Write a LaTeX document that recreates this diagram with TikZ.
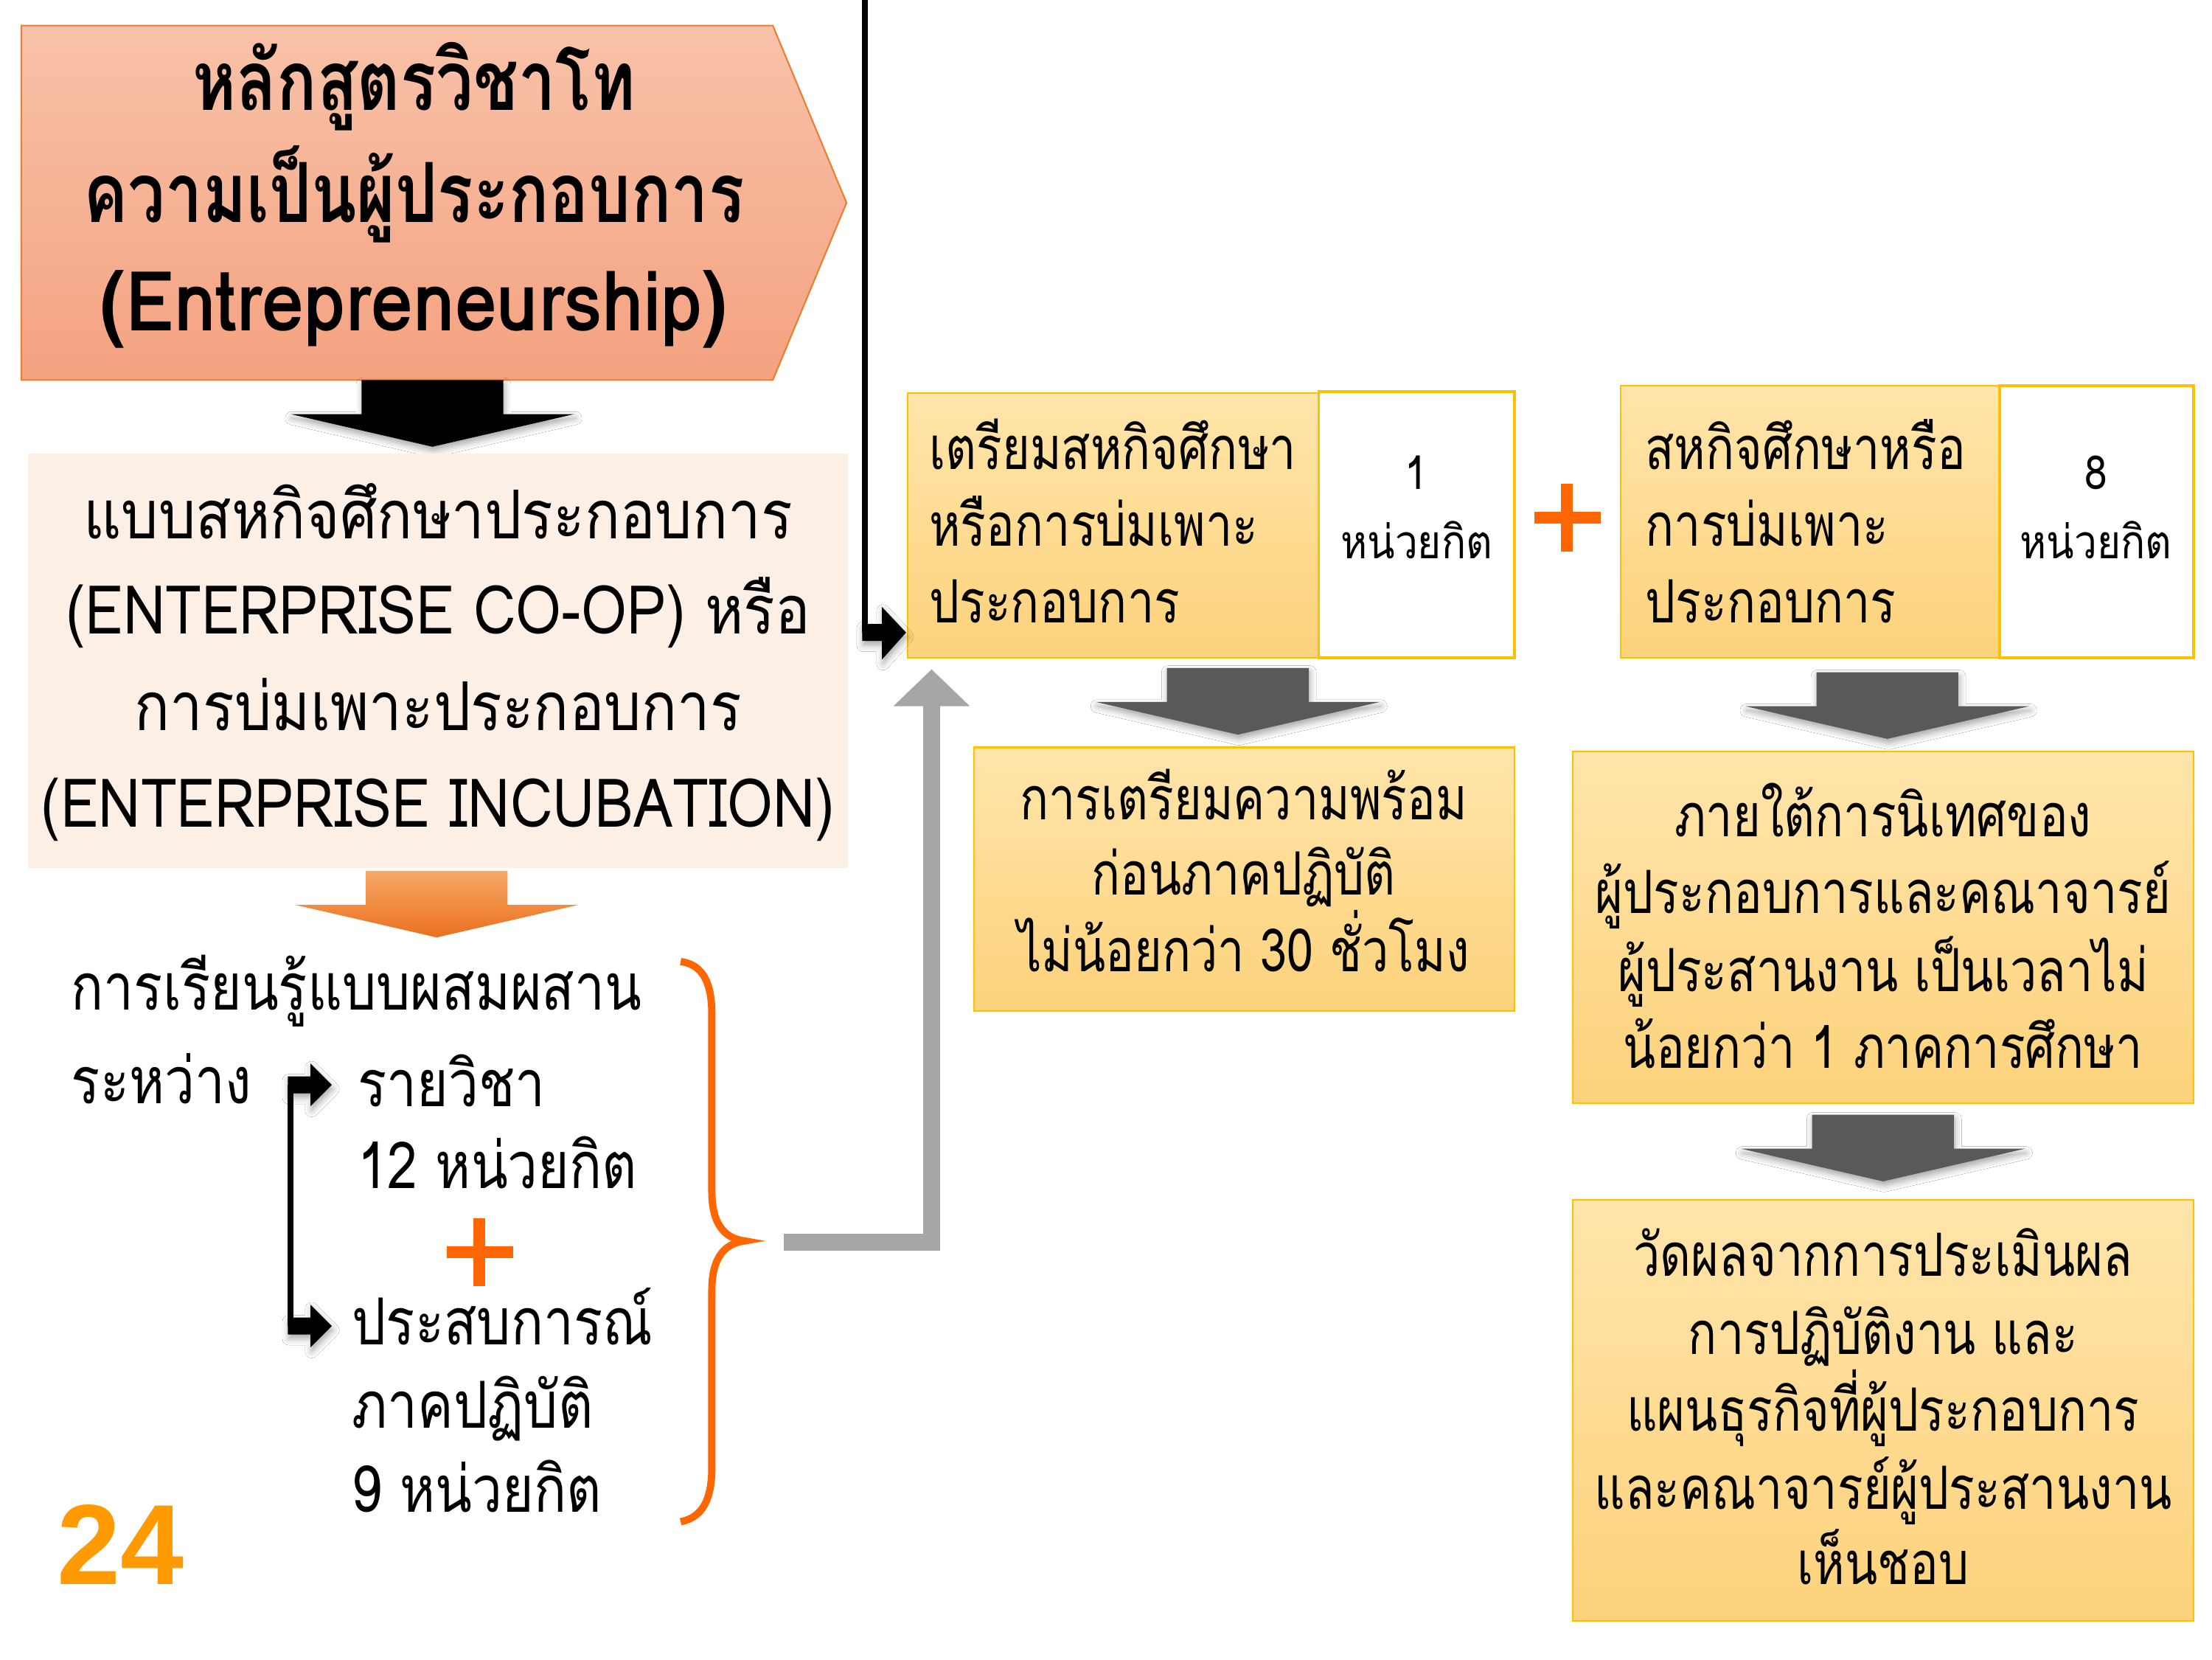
\documentclass[tikz,border=0pt]{standalone}
\usepackage{fontspec}
\setmainfont{Loma}[Script=Thai]
\newfontfamily\thT[Script=Thai,FakeStretch=0.80]{Loma}
\newfontfamily\thTL[Script=Thai,FakeStretch=0.91]{Loma}
\newfontfamily\thM[Script=Thai,FakeStretch=0.87]{Loma}
\newfontfamily\thL[Script=Thai,FakeStretch=0.83]{Loma}
\newfontfamily\thB[Script=Thai,FakeStretch=0.80]{Loma}
\newfontfamily\thS[Script=Thai,FakeStretch=0.87]{Loma}
\newfontfamily\numf{Liberation Sans}
\usetikzlibrary{fit,shadows.blur}
\definecolor{tborder}{HTML}{ED7D31}
\definecolor{ttop}{HTML}{F8C2A9}
\definecolor{tbot}{HTML}{F4A280}
\definecolor{peach}{HTML}{FBEFE6}
\definecolor{otop}{HTML}{F7A865}
\definecolor{obot}{HTML}{EA7020}
\definecolor{ytop}{HTML}{FFE5AB}
\definecolor{ybot}{HTML}{FDD27B}
\definecolor{yborder}{HTML}{FFC000}
\definecolor{darkg}{HTML}{595959}
\definecolor{lightg}{HTML}{A6A6A6}
\definecolor{plusor}{HTML}{FF6600}
\definecolor{numor}{HTML}{FF9A00}
\tikzset{
  ybox/.style={draw=yborder, line width=0.6pt, top color=ytop, bottom color=ybot, inner sep=0pt},
  wbox/.style={draw=yborder, line width=1.1pt, fill=white, inner sep=0pt},
  ttl/.style={font=\thT\bfseries\fontsize{32}{38}\selectfont, anchor=base, inner sep=0pt},
  mid/.style={font=\thM\fontsize{26}{30}\selectfont, anchor=base, inner sep=0pt},
  lft/.style={font=\thL\fontsize{25}{30}\selectfont, anchor=base west, inner sep=0pt},
  btx/.style={font=\thB\fontsize{23}{28}\selectfont, anchor=base west, inner sep=0pt},
  bct/.style={font=\thB\fontsize{23}{28}\selectfont, anchor=base, inner sep=0pt},
  sml/.style={font=\thS\fontsize{18}{22}\selectfont, anchor=base, inner sep=0pt},
  plusline/.style={draw=plusor, line width=4.4pt},
  brace/.style={draw=plusor, line width=2.8pt},
  softshadow/.style={blur shadow={shadow xshift=0.4pt, shadow yshift=-1.6pt, shadow blur radius=2.5pt, shadow opacity=35}},
}
\newcommand\dnarrow[3]{%
  \path[#3] (#1-50,#2) -- (#1+50,#2) -- (#1+50,#2+24) -- (#1+100,#2+24) -- (#1,#2+47) -- (#1-100,#2+24) -- (#1-50,#2+24) -- cycle;}
\begin{document}
\begin{tikzpicture}[x=0.019231cm,y=-0.019231cm]
\useasboundingbox (0,0) rectangle (1560,1170);
\fill[white] (0,0) rectangle (1560,1170);

% ---- title pentagon
\path[draw=tborder, line width=0.6pt, top color=ttop, bottom color=tbot]
  (15,18) -- (545,18) -- (597,143) -- (545,268) -- (15,268) -- cycle;
\node[ttl] (t1) at (292,78) {หลักสูตรวิชาโท};
\node[ttl] (t2) at (292,157) {ความเป็นผู้ประกอบการ};
\node[ttl, font=\thTL\bfseries\fontsize{32}{38}\selectfont] (t3) at (292,233) {(Entrepreneurship)};

% ---- black down arrow
\dnarrow{305}{268}{fill=black, softshadow}

% ---- light box
\node[fill=peach, inner sep=0pt, fit={(20,320)(598,612)}] (lb) {};
\node[mid] (l1) at (309,380) {แบบสหกิจศึกษาประกอบการ};
\node[mid] (l2) at (309,447) {(ENTERPRISE CO-OP) หรือ};
\node[mid] (l3) at (309,515) {การบ่มเพาะประกอบการ};
\node[mid] (l4) at (309,583) {(ENTERPRISE INCUBATION)};

% ---- orange down arrow
\dnarrow{308}{614}{top color=otop, bottom color=obot}

% ---- lower left text
\node[lft] (m1) at (50,712) {การเรียนรู้แบบผสมผสาน};
\node[lft] (m2) at (50,778) {ระหว่าง};
\node[lft] (m3) at (252,780) {รายวิชา};
\node[lft] (m4) at (252,838) {12 หน่วยกิต};
\node[lft] (m5) at (248,948) {ประสบการณ์};
\node[lft] (m6) at (248,1007) {ภาคปฏิบัติ};
\node[lft] (m7) at (248,1066) {9 หน่วยกิต};
% bracket with arrows
\coordinate (bt) at (205,765);
\coordinate (bb) at (205,935);
\draw[line width=2.2pt] (bt) -- (bb);
\fill[softshadow] (203,759) -- (219,759) -- (219,750) -- (234,765) -- (219,780) -- (219,771) -- (203,771) -- cycle;
\fill[softshadow] (203,929) -- (219,929) -- (219,920) -- (234,935) -- (219,950) -- (219,941) -- (203,941) -- cycle;
% plus
\draw[plusline] (315,883) -- (362,883);
\draw[plusline] (338,859) -- (338,907);
% brace
\draw[brace] (480,678) .. controls (495,680) and (502,692) .. (502,715) -- (502,840)
  .. controls (502,862) and (510,873) .. (525,875)
  .. controls (510,877) and (502,888) .. (502,910) -- (502,1035)
  .. controls (502,1058) and (495,1070) .. (480,1073);
\coordinate (bracetip) at (553,876);

% ---- number
\node[font=\numf\bfseries\fontsize{44}{48}\selectfont, text=numor, anchor=base west, inner sep=0pt] (num) at (40,1117) {24};

% ---- boxes
\node[ybox, fit={(640,277)(930,464)}] (b1) {};
\node[wbox, fit={(930,276)(1068,464)}] (b1u) {};
\node[ybox, fit={(1143,272)(1410,464)}] (b2) {};
\node[wbox, fit={(1410,272)(1547,464)}] (b2u) {};
\node[ybox, fit={(687,527)(1068,713)}] (b3) {};
\node[ybox, fit={(1109,530)(1547,778)}] (b4) {};
\node[ybox, fit={(1109,846)(1547,1143)}] (b5) {};

\node[btx] (p1) at (655,331) {เตรียมสหกิจศึกษา};
\node[btx] (p2) at (655,385) {หรือการบ่มเพาะ};
\node[btx] (p3) at (655,439) {ประกอบการ};
\node[sml] (u1) at (999,345) {1};
\node[sml] (u2) at (999,394) {หน่วยกิต};

\node[btx] (q1) at (1160,331) {สหกิจศึกษาหรือ};
\node[btx] (q2) at (1160,385) {การบ่มเพาะ};
\node[btx] (q3) at (1160,439) {ประกอบการ};
\node[sml] (v1) at (1478,345) {8};
\node[sml] (v2) at (1478,394) {หน่วยกิต};

\draw[plusline] (1082,365) -- (1129,365);
\draw[plusline] (1105,341) -- (1105,389);

\node[bct] (r1) at (877,578) {การเตรียมความพร้อม};
\node[bct] (r2) at (877,631) {ก่อนภาคปฏิบัติ};
\node[bct] (r3) at (877,685) {ไม่น้อยกว่า 30 ชั่วโมง};

\node[bct] (s1) at (1328,590) {ภายใต้การนิเทศของ};
\node[bct] (s2) at (1328,644) {ผู้ประกอบการและคณาจารย์};
\node[bct] (s3) at (1328,699) {ผู้ประสานงาน เป็นเวลาไม่};
\node[bct] (s4) at (1328,753) {น้อยกว่า 1 ภาคการศึกษา};

\node[bct] (w1) at (1328,900) {วัดผลจากการประเมินผล};
\node[bct] (w2) at (1328,955) {การปฏิบัติงาน และ};
\node[bct] (w3) at (1328,1009) {แผนธุรกิจที่ผู้ประกอบการ};
\node[bct] (w4) at (1328,1064) {และคณาจารย์ผู้ประสานงาน};
\node[bct] (w5) at (1328,1117) {เห็นชอบ};

% ---- dark grey arrows
\dnarrow{873}{471}{fill=darkg, softshadow}
\dnarrow{1331}{474}{fill=darkg, softshadow}
\dnarrow{1328}{786}{fill=darkg, softshadow}

% ---- grey connector from brace to box 1
\coordinate (gc) at (657,876);
\draw[lightg, line width=6.5pt] (bracetip) -- (gc) -- (657,496);
\fill[lightg] (630,498) -- (684,498) -- (657,472) -- cycle;

% ---- black connector from top into box 1
\coordinate (topc) at (610,0);
\coordinate (b1in) at (610,446);
\draw[line width=2.2pt] (topc) -- (b1in);
\fill[softshadow] (608,440) -- (622,440) -- (622,428) -- (639,446) -- (622,465) -- (622,452) -- (608,452) -- cycle;
\end{tikzpicture}
\end{document}
